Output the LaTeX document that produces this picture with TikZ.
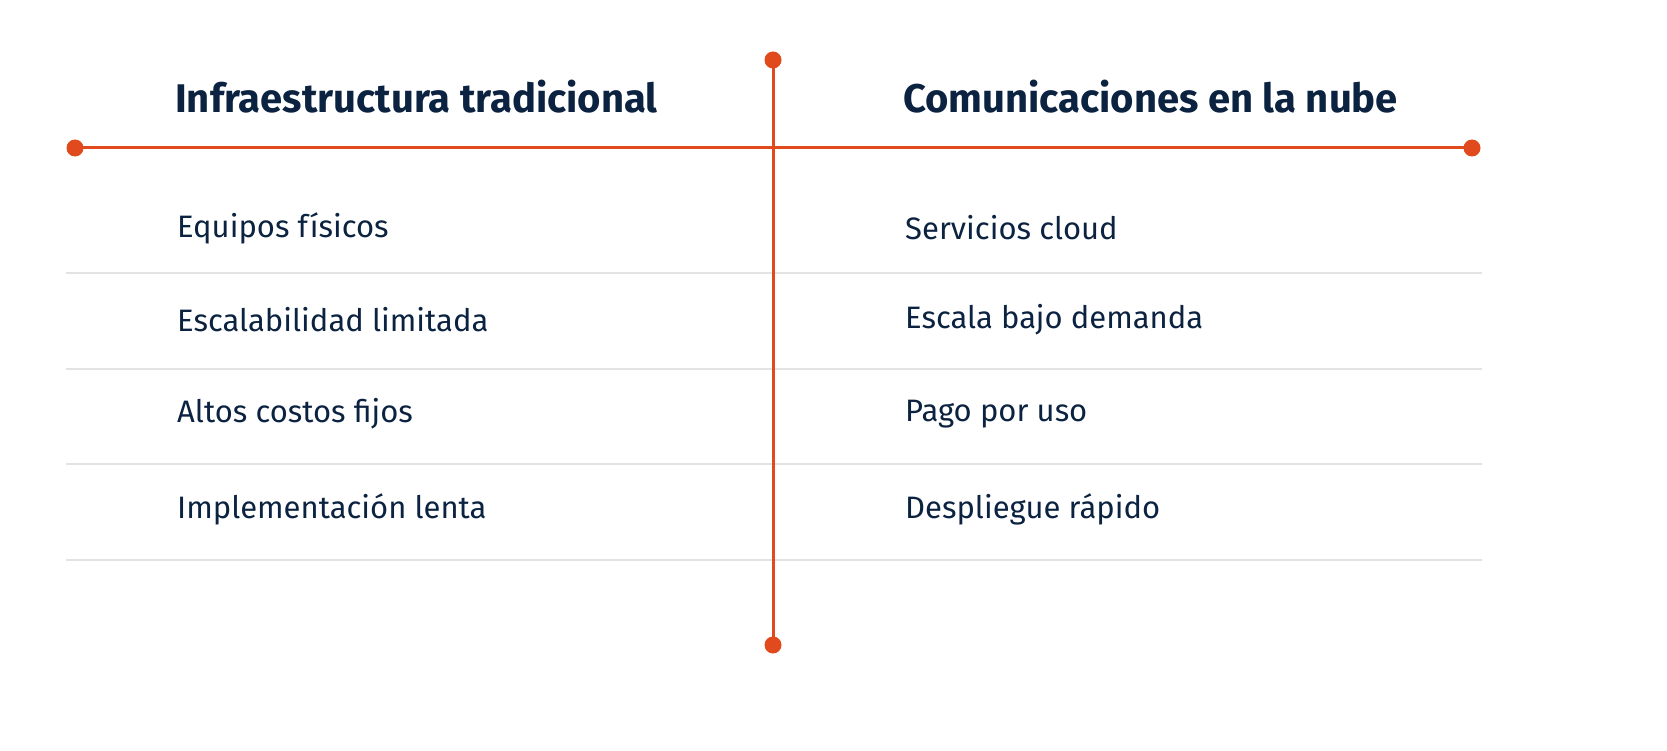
\documentclass[tikz,border=0pt]{standalone}
\usepackage{fontspec}
\setmainfont{Fira Sans}
\definecolor{acc}{HTML}{E04A1C}
\definecolor{navy}{HTML}{0B2340}
\definecolor{rule}{HTML}{E3E3E3}
\begin{document}
\begin{tikzpicture}[x=1pt,y=-1pt,
  head/.style={anchor=west,inner sep=0pt,text=navy,font=\fontsize{40}{46}\selectfont\bfseries},
  item/.style={anchor=west,inner sep=0pt,text=navy,font=\fontsize{31}{36}\selectfont},
  dot/.style={circle,fill=acc,inner sep=0pt,minimum size=17pt}]
\useasboundingbox[fill=white] (0,0) rectangle (1667,751);
\foreach \y in {273,369,464,560} \draw[rule,line width=1.5pt] (66,\y) -- (1482,\y);
\node[dot] (t) at (773,60) {};
\node[dot] (b) at (773,645) {};
\node[dot] (l) at (75,148) {};
\node[dot] (r) at (1472,148) {};
\draw[acc,line width=3pt] (t.center) -- (b.center);
\draw[acc,line width=3pt] (l.center) -- (r.center);
\node[head] (h1) at (175,97) {Infraestructura tradicional};
\node[head] (h2) at (903,97) {Comunicaciones en la nube};
\node[item] (a1) at (177,228) {Equipos físicos};
\node[item] (a2) at (177,320) {Escalabilidad limitada};
\node[item] (a3) at (177,414) {Altos costos fijos};
\node[item] (a4) at (177,509) {Implementación lenta};
\node[item] (b1) at (905,228) {Servicios cloud};
\node[item] (b2) at (905,320) {Escala bajo demanda};
\node[item] (b3) at (905,414) {Pago por uso};
\node[item] (b4) at (905,509) {Despliegue rápido};
\end{tikzpicture}
\end{document}
